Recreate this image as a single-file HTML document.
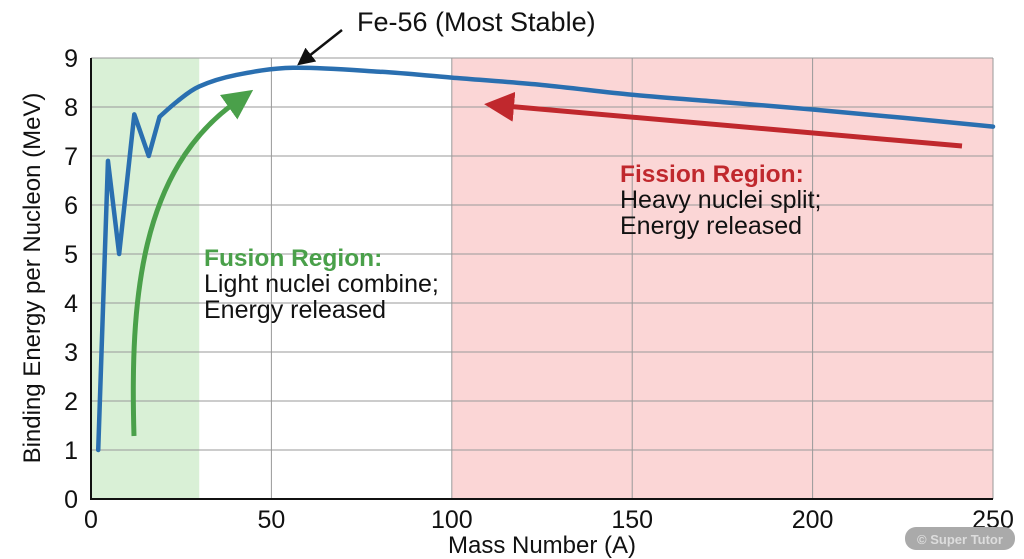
<!DOCTYPE html>
<html><head><meta charset="utf-8"><style>
body{margin:0;background:#fff;}
svg{display:block;font-family:"Liberation Sans",sans-serif;}
</style></head><body>
<svg id="chart" width="1024" height="559" viewBox="0 0 1024 559">
<defs>
<marker id="gh" viewBox="0 0 10 10" refX="3" refY="5" markerWidth="6" markerHeight="6" orient="auto"><path d="M0,0L10,5L0,10z" fill="#4aa04a"/></marker>
<marker id="rh" viewBox="0 0 10 10" refX="3" refY="5" markerWidth="6" markerHeight="6" orient="auto"><path d="M0,0L10,5L0,10z" fill="#c0282d"/></marker>
<marker id="kh" viewBox="0 0 10 10" refX="5" refY="5" markerWidth="7" markerHeight="7" orient="auto"><path d="M0,0L10,5L0,10z" fill="#111"/></marker>
</defs>
<g id="regions"></g>
<g id="grid"></g>
<g id="series"></g>
<g id="ticks"></g>
<path d="M134,436 C130,300 140,170 236,102" fill="none" stroke="#4aa04a" stroke-width="5" marker-end="url(#gh)"/>
<line x1="962" y1="146" x2="505" y2="106" stroke="#c0282d" stroke-width="5" marker-end="url(#rh)"/>
<line x1="342" y1="30" x2="304" y2="60" stroke="#111" stroke-width="2.5" marker-end="url(#kh)"/>
<text x="357" y="31" font-size="27" fill="#111">Fe-56 (Most Stable)</text>
<text x="204" y="266" font-size="24.5" font-weight="bold" fill="#4aa04a">Fusion Region:</text>
<text font-size="25" fill="#111"><tspan x="204" y="292">Light nuclei combine;</tspan><tspan x="204" y="318">Energy released</tspan></text>
<text x="620" y="182" font-size="24.5" font-weight="bold" fill="#c0282d">Fission Region:</text>
<text font-size="25" fill="#111"><tspan x="620" y="208">Heavy nuclei split;</tspan><tspan x="620" y="234">Energy released</tspan></text>
<text x="542" y="553" font-size="24" text-anchor="middle" fill="#111">Mass Number (A)</text>
<text transform="translate(40,278) rotate(-90)" font-size="24" text-anchor="middle" fill="#111">Binding Energy per Nucleon (MeV)</text>
<rect x="905" y="527" width="110" height="23" rx="11" fill="#aaa"/>
<text x="960" y="544" font-size="13" font-weight="bold" text-anchor="middle" fill="#ddd">© Super Tutor</text>
</svg>
<script>
const massNumbers=[2,4.7,7.8,12,16,19,24,30,40,56,80,100,125,150,175,200,225,250];
const bindingEnergy=[1.0,6.9,5.0,7.85,7.0,7.8,8.12,8.42,8.65,8.8,8.72,8.6,8.45,8.25,8.1,7.95,7.78,7.6];
const xTicks=[0,50,100,150,200,250];
const yTicks=[0,1,2,3,4,5,6,7,8,9];
const fusionRange=[0,30];
const fissionRange=[100,250];
const NS='http://www.w3.org/2000/svg';
const X0=91,X1=993,Y0=499,Y1=58;
const xs=a=>X0+(a-0)/250*(X1-X0);
const ys=v=>Y0-(v/9)*(Y0-Y1);
function mk(t,attrs,parent){const e=document.createElementNS(NS,t);for(const k in attrs)e.setAttribute(k,attrs[k]);document.getElementById(parent).appendChild(e);return e;}
let r=mk('rect',{x:xs(fusionRange[0]),y:Y1,width:xs(fusionRange[1])-xs(fusionRange[0]),height:Y0-Y1,fill:'#d9f0d6'},'regions');


r=mk('rect',{x:xs(fissionRange[0]),y:Y1,width:xs(fissionRange[1])-xs(fissionRange[0]),height:Y0-Y1,fill:'#fbd6d6'},'regions');


yTicks.forEach(v=>{
 const l=mk('line',{x1:X0,x2:X1,y1:ys(v),y2:ys(v),stroke:'#999','stroke-width':1},'grid');
 
 
 const t=mk('text',{x:78,y:ys(v)+9,'font-size':25,'text-anchor':'end',fill:'#111'},'ticks');
 t.textContent=v;
 
 
});
xTicks.forEach(v=>{
 const l=mk('line',{x1:xs(v),x2:xs(v),y1:Y1,y2:Y0,stroke:'#999','stroke-width':1},'grid');
 
 
 const t=mk('text',{x:xs(v),y:528,'font-size':25,'text-anchor':'middle',fill:'#111'},'ticks');
 t.textContent=v;
 
 
});
let ax=mk('path',{d:`M${X0},${Y1}V${Y0}H${X1}`,fill:'none',stroke:'#111','stroke-width':2},'grid');


const P=massNumbers.map((a,i)=>[xs(a),ys(bindingEnergy[i])]);
const S=5;
let d='M'+P[0].join(',');
for(let i=1;i<=S;i++)d+='L'+P[i].join(',');
for(let i=S;i<P.length-1;i++){
 const p0=P[Math.max(i-1,S)],p1=P[i],p2=P[i+1],p3=P[Math.min(i+2,P.length-1)];
 const c1=[p1[0]+(p2[0]-p0[0])/6,p1[1]+(p2[1]-p0[1])/6];
 const c2=[p2[0]-(p3[0]-p1[0])/6,p2[1]-(p3[1]-p1[1])/6];
 d+=`C${c1.join(',')} ${c2.join(',')} ${p2.join(',')}`;
}
const pl=mk('path',{d:d,fill:'none',stroke:'#2a6fb0','stroke-width':4.5,'stroke-linejoin':'round','stroke-linecap':'round'},'series');


</script>
</body></html>
